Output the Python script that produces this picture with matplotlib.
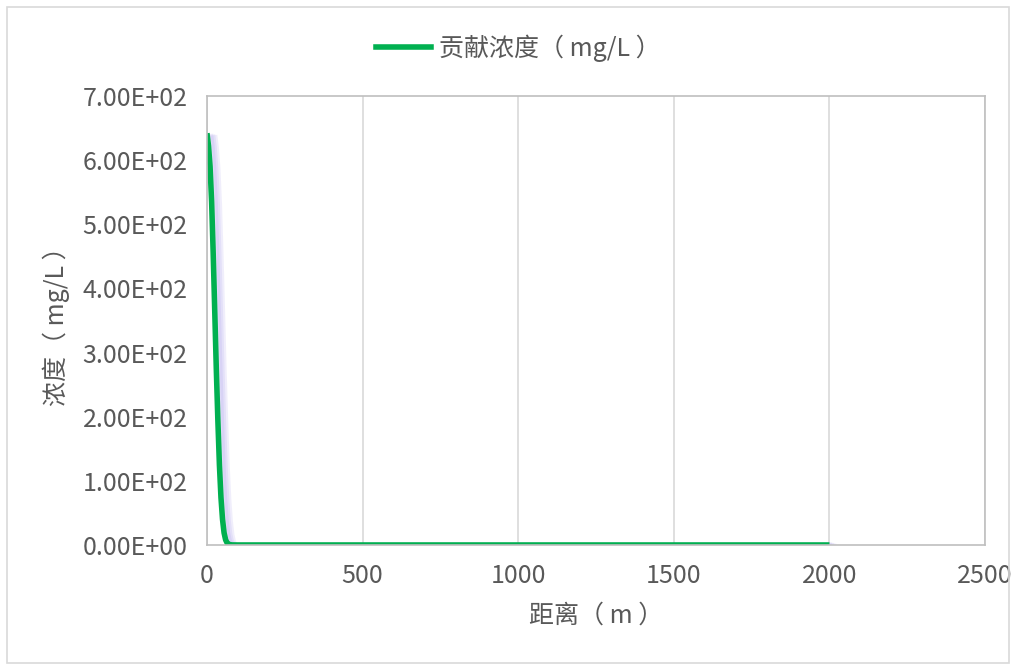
import numpy as np
import matplotlib
matplotlib.use("Agg")
import matplotlib.pyplot as plt
import matplotlib.patheffects as pe
from matplotlib.lines import Line2D
from matplotlib.patches import Rectangle
from matplotlib.ticker import FuncFormatter

plt.rcParams['font.family'] = ['Noto Sans CJK SC', 'DejaVu Sans']

# distance (m) and contributed concentration (mg/L)
distance = [0, 5, 10, 15, 20, 25, 30, 35, 40, 45, 50, 55, 60, 65, 70, 80, 100,
            200, 500, 1000, 1500, 2000]
conc = [642, 622, 590, 535, 455, 365, 275, 195, 125, 74, 40, 19, 8, 3, 1, 0.1, 0,
        0, 0, 0, 0, 0]

series_name = '贡献浓度（ mg/L ）'
x_title = '距离（ m ）'
y_title = '浓度（ mg/L ）'

fig = plt.figure(figsize=(10.16, 6.66), dpi=100)
ax = fig.add_axes([0.2037, 0.1817, 0.7658, 0.6742])

# outer chart border
fig.patches.append(Rectangle((0.007, 0.005), 0.986, 0.985, transform=fig.transFigure,
                             fill=False, edgecolor='#d9d9d9', linewidth=1.2))

shadow = [pe.SimpleLineShadow(offset=(d, -d * 0.3), shadow_color='#8a7be6',
                              alpha=0.12, linewidth=5) for d in (2, 3.5, 5)]
ax.plot(distance, conc, color='#00b050', linewidth=4, solid_capstyle='butt',
        solid_joinstyle='round', path_effects=shadow + [pe.Normal()])

ax.set_xlim(0, 2500)
ax.set_ylim(0, 700)
ax.set_xticks(np.arange(0, 2501, 500))
ax.set_yticks(np.arange(0, 701, 100))
ax.yaxis.set_major_formatter(FuncFormatter(lambda v, p: '{:.2E}'.format(v)))

ax.grid(axis='x', color='#d9d9d9', linewidth=1.2)
ax.grid(axis='y', visible=False)
for s in ax.spines.values():
    s.set_color('#bfbfbf')
    s.set_linewidth(1.2)

ax.tick_params(length=0, labelsize=18, labelcolor='#595959')
ax.tick_params(axis='y', pad=14)
ax.tick_params(axis='x', pad=13)

ax.set_xlabel(x_title, fontsize=18, color='#595959', labelpad=10)
ax.set_ylabel(y_title, fontsize=18, color='#595959', labelpad=9)

handle = Line2D([], [], color='#00b050', linewidth=4)
fig.legend([handle], [series_name], loc='center', bbox_to_anchor=(0.51, 0.928),
           frameon=False, fontsize=18, labelcolor='#595959',
           handlelength=2.2, handletextpad=0.3)

fig.savefig('out.png', dpi=100)
